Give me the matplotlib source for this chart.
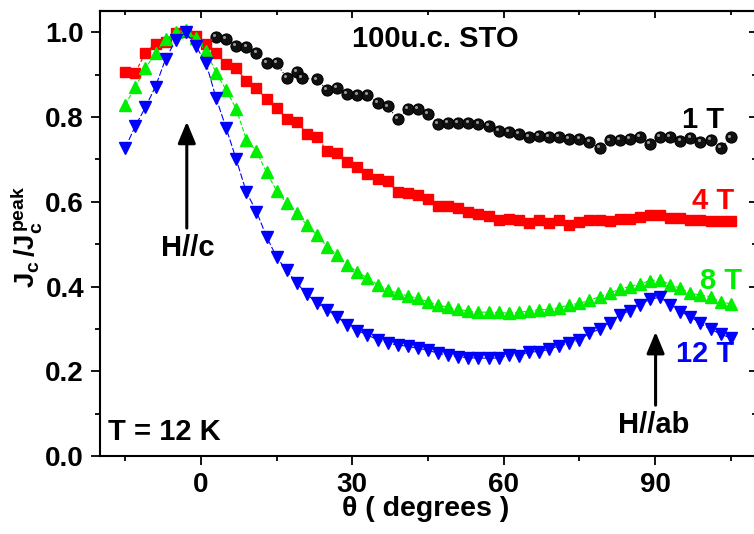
import numpy as np
import matplotlib
matplotlib.use("Agg")
import matplotlib.pyplot as plt
from matplotlib.transforms import offset_copy

plt.rcParams['font.family'] = ['Liberation Sans', 'DejaVu Sans']
plt.rcParams['font.weight'] = 'bold'
plt.rcParams['mathtext.fontset'] = 'custom'
plt.rcParams['mathtext.rm'] = 'Liberation Sans:bold'
plt.rcParams['mathtext.it'] = 'Liberation Sans:bold'
plt.rcParams['mathtext.bf'] = 'Liberation Sans:bold'

# 1. Data
theta_1T = [3, 5, 7, 9, 11, 13, 15, 17, 19, 20, 23, 25, 27, 29, 31, 33, 35, 37, 39, 41,
            43, 45, 47, 49, 51, 53, 55, 57, 59, 61, 63, 65, 67, 69, 71, 73, 75, 77, 79, 81,
            83, 85, 87, 89, 91, 93, 95, 97, 99, 101, 103, 105]
jc_1T = [0.990, 0.984, 0.968, 0.966, 0.951, 0.927, 0.927, 0.892, 0.907, 0.892,
         0.889, 0.864, 0.868, 0.855, 0.852, 0.853, 0.834, 0.825, 0.795, 0.820,
         0.819, 0.807, 0.784, 0.786, 0.787, 0.787, 0.784, 0.779, 0.767, 0.765,
         0.760, 0.754, 0.755, 0.754, 0.753, 0.748, 0.749, 0.742, 0.727, 0.745,
         0.746, 0.749, 0.753, 0.737, 0.753, 0.753, 0.744, 0.750, 0.742, 0.746,
         0.727, 0.752]

theta = [-15, -13, -11, -9, -7, -5, -3, -1, 1, 3, 5, 7, 9, 11, 13, 15, 17, 19, 21, 23,
         25, 27, 29, 31, 33, 35, 37, 39, 41, 43, 45, 47, 49, 51, 53, 55, 57, 59, 61, 63,
         65, 67, 69, 71, 73, 75, 77, 79, 81, 83, 85, 87, 89, 91, 93, 95, 97, 99, 101, 103,
         105]
jc_4T = [0.907, 0.905, 0.952, 0.973, 0.976, 0.998, 1.000, 0.992, 0.973, 0.951,
         0.925, 0.915, 0.885, 0.868, 0.842, 0.821, 0.796, 0.789, 0.761, 0.754,
         0.719, 0.716, 0.693, 0.683, 0.666, 0.654, 0.648, 0.623, 0.621, 0.617,
         0.606, 0.590, 0.589, 0.585, 0.577, 0.571, 0.567, 0.557, 0.559, 0.557,
         0.551, 0.556, 0.551, 0.556, 0.545, 0.552, 0.556, 0.557, 0.555, 0.560,
         0.559, 0.564, 0.569, 0.569, 0.561, 0.561, 0.557, 0.557, 0.555, 0.555,
         0.555]
jc_8T = [0.829, 0.871, 0.915, 0.951, 0.984, 1.000, 1.005, 0.986, 0.955, 0.905,
         0.864, 0.819, 0.747, 0.719, 0.670, 0.626, 0.597, 0.573, 0.545, 0.522,
         0.494, 0.475, 0.451, 0.435, 0.420, 0.404, 0.392, 0.384, 0.378, 0.372,
         0.364, 0.357, 0.351, 0.346, 0.342, 0.340, 0.339, 0.339, 0.337, 0.339,
         0.342, 0.345, 0.346, 0.350, 0.357, 0.360, 0.368, 0.376, 0.384, 0.394,
         0.400, 0.406, 0.414, 0.416, 0.404, 0.396, 0.384, 0.380, 0.376, 0.364,
         0.359]
jc_12T = [0.727, 0.779, 0.823, 0.872, 0.937, 0.981, 1.000, 0.967, 0.928, 0.845,
          0.774, 0.700, 0.623, 0.577, 0.518, 0.469, 0.438, 0.408, 0.382, 0.361,
          0.345, 0.329, 0.309, 0.296, 0.286, 0.274, 0.266, 0.262, 0.259, 0.254,
          0.250, 0.242, 0.238, 0.234, 0.232, 0.231, 0.231, 0.231, 0.238, 0.236,
          0.246, 0.246, 0.252, 0.260, 0.266, 0.274, 0.290, 0.299, 0.315, 0.333,
          0.343, 0.357, 0.370, 0.375, 0.357, 0.341, 0.329, 0.313, 0.299, 0.288,
          0.278]

field_labels = ["1 T", "4 T", "8 T", "12 T"]
field_colors = ["black", "red", "#00ee00", "blue"]

# 2. Figure
fig = plt.figure(figsize=(7.54, 5.34), dpi=100)
ax = fig.add_axes([100 / 754, 78 / 534, 656 / 754, 445.3 / 534])

# 1 T: shaded black spheres
ax.plot(theta_1T, jc_1T, ls=(0, (1, 2)), lw=0.8, color="black",
        marker="o", ms=8, mfc="#111111", mec="black", mew=0.8)
hl = offset_copy(ax.transData, fig=fig, x=-1.3, y=1.3, units="points")
ax.plot(theta_1T, jc_1T, ls="none", marker="o", ms=2.2, color="#9a9a9a",
        mew=0, transform=hl)

ax.plot(theta, jc_4T, ls=(0, (3, 2)), lw=0.8, color=field_colors[1],
        marker="s", ms=7, mfc=field_colors[1], mec=field_colors[1])
ax.plot(theta, jc_8T, ls=(0, (4, 2)), lw=0.8, color=field_colors[2],
        marker="^", ms=9, mfc=field_colors[2], mec=field_colors[2])
ax.plot(theta, jc_12T, ls=(0, (6, 2)), lw=0.8, color=field_colors[3],
        marker="v", ms=9, mfc=field_colors[3], mec=field_colors[3])

ax.set_xlim(-20, 110)
ax.set_ylim(0, 1.051)
ax.set_xticks([0, 30, 60, 90])
ax.set_xticks([-15, 15, 45, 75, 105], minor=True)
ax.set_yticks([0.0, 0.2, 0.4, 0.6, 0.8, 1.0])
ax.set_yticks([0.1, 0.3, 0.5, 0.7, 0.9], minor=True)
ax.set_yticklabels(["0.0", "0.2", "0.4", "0.6", "0.8", "1.0"])

for s in ax.spines.values():
    s.set_linewidth(1.5)
ax.tick_params(which="both", direction="out", width=1.3, labelsize=20,
               top=False, right=False)
ax.tick_params(which="major", length=6.5, pad=5)
ax.tick_params(which="minor", length=3.5)

# inward ticks on top and right
top = ax.secondary_xaxis("top")
top.set_xticks([0, 30, 60, 90])
top.set_xticks([-15, 15, 45, 75, 105], minor=True)
top.tick_params(which="both", direction="in", width=1.3, labeltop=False)
top.tick_params(which="major", length=5)
top.tick_params(which="minor", length=3)
top.spines["top"].set_linewidth(1.5)
right = ax.secondary_yaxis("right")
right.set_yticks([0.0, 0.2, 0.4, 0.6, 0.8, 1.0])
right.set_yticks([0.1, 0.3, 0.5, 0.7, 0.9], minor=True)
right.tick_params(which="both", direction="in", width=1.3, labelright=False)
right.tick_params(which="major", length=5)
right.tick_params(which="minor", length=3)

ax.text(-0.112, 0.492, r"$J_c\,/J_c^{peak}$", transform=ax.transAxes,
        rotation=90, ha="center", va="center", fontsize=20)
ax.text(0.497, -0.120, "θ ( degrees )", transform=ax.transAxes,
        ha="center", va="center", fontsize=20.5)

# 3. Annotations
ax.text(46.4, 0.985, "100u.c. STO", ha="center", va="center", fontsize=21)
ax.text(-18.5, 0.057, "T = 12 K", ha="left", va="center", fontsize=21)
ax.text(103.6, 0.793, field_labels[0], ha="right", va="center", fontsize=21,
        color=field_colors[0])
ax.text(105.6, 0.602, field_labels[1], ha="right", va="center", fontsize=21,
        color=field_colors[1])
ax.text(107.3, 0.413, field_labels[2], ha="right", va="center", fontsize=21,
        color=field_colors[2])
ax.text(105.6, 0.241, field_labels[3], ha="right", va="center", fontsize=21,
        color=field_colors[3])

arrow = dict(arrowstyle="-|>,head_length=0.65,head_width=0.27", lw=2.2,
             color="black", shrinkA=0, shrinkB=0, mutation_scale=20)
ax.annotate("", xy=(-2.8, 0.789), xytext=(-2.8, 0.538), arrowprops=arrow)
ax.text(-2.6, 0.491, "H//c", ha="center", va="center", fontsize=21)
ax.annotate("", xy=(90.1, 0.293), xytext=(90.1, 0.12), arrowprops=arrow)
ax.text(89.7, 0.073, "H//ab", ha="center", va="center", fontsize=21)

fig.savefig("out.png", dpi=100)
